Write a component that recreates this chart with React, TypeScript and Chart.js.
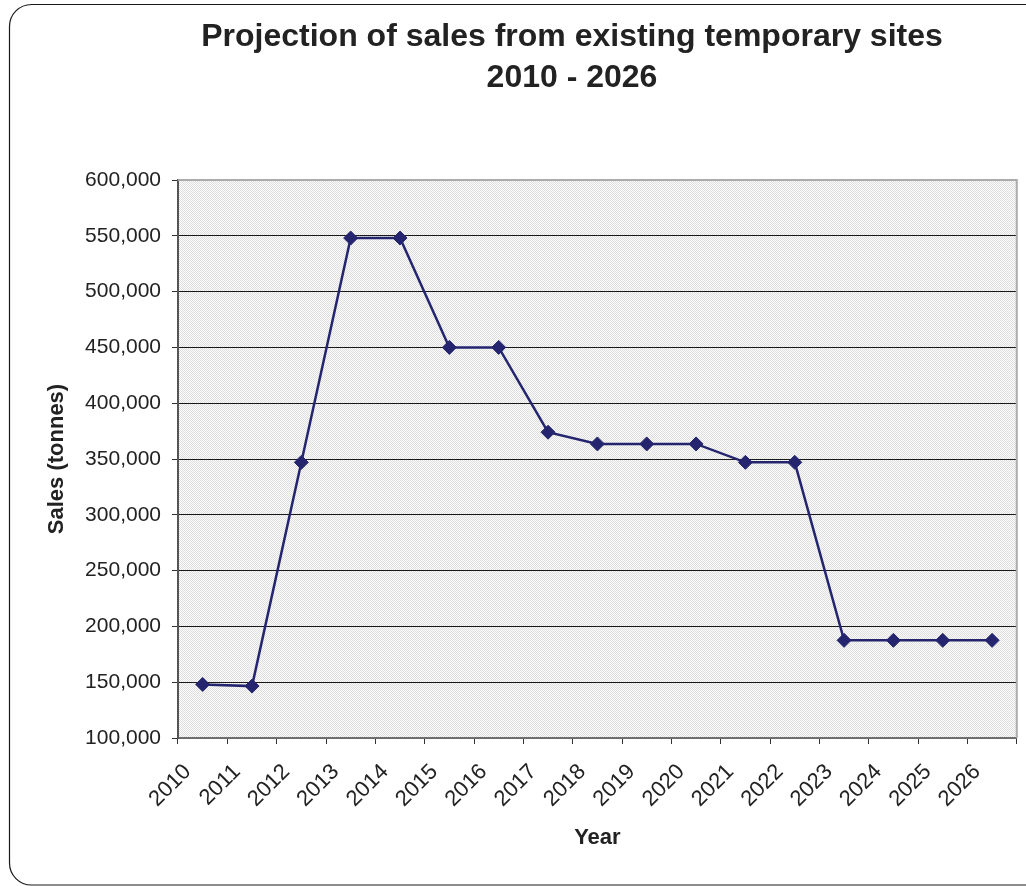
import React, { useEffect, useRef } from "react";
import { Chart, registerables } from "chart.js";

Chart.register(...registerables);

const titleLines = ["Projection of sales from existing temporary sites", "2010 - 2026"];
const years = ["2010", "2011", "2012", "2013", "2014", "2015", "2016", "2017", "2018", "2019", "2020", "2021", "2022", "2023", "2024", "2025", "2026"];
const sales = [148000, 146500, 347000, 548000, 548000, 450000, 450000, 374000, 363500, 363500, 363500, 347000, 347000, 187500, 187500, 187500, 187500];
const yMin = 100000;
const yMax = 600000;
const yStep = 50000;
const xTitle = "Year";
const yTitle = "Sales (tonnes)";

const W = 1026;
const H = 886;
const FONT = "'Liberation Sans', Arial, sans-serif";
const NAVY = "#25256f";

function makePattern(ctx: CanvasRenderingContext2D) {
  const c = document.createElement("canvas");
  c.width = 2;
  c.height = 2;
  const p = c.getContext("2d")!;
  p.fillStyle = "#fcfcfc";
  p.fillRect(0, 0, 2, 2);
  p.fillStyle = "#dedede";
  p.fillRect(0, 0, 1, 1);
  p.fillRect(1, 1, 1, 1);
  return ctx.createPattern(c, "repeat");
}

const decorPlugin = {
  id: "decor",
  beforeDraw(chart: any) {
    const { ctx, chartArea } = chart;
    ctx.save();
    ctx.fillStyle = "#ffffff";
    ctx.fillRect(0, 0, W, H);
    const pat = makePattern(ctx);
    if (pat) {
      ctx.fillStyle = pat;
      ctx.fillRect(chartArea.left, chartArea.top, chartArea.right - chartArea.left, chartArea.bottom - chartArea.top);
    }
    ctx.restore();
  },
  afterDraw(chart: any) {
    const { ctx, chartArea } = chart;
    ctx.save();
    ctx.strokeStyle = "#ababab";
    ctx.lineWidth = 2;
    ctx.beginPath();
    ctx.moveTo(chartArea.left, chartArea.top);
    ctx.lineTo(chartArea.right, chartArea.top);
    ctx.lineTo(chartArea.right, chartArea.bottom);
    ctx.stroke();
    ctx.fillStyle = "#222222";
    ctx.font = `bold 32px ${FONT}`;
    ctx.textAlign = "center";
    ctx.textBaseline = "alphabetic";
    ctx.fillText(titleLines[0], 572, 46);
    ctx.fillText(titleLines[1], 572, 87);
    ctx.strokeStyle = "#1a1a1a";
    ctx.lineWidth = 1.2;
    const x = 9.5, y = 4.5, w = 1040, h = 880.5, r = 22;
    ctx.beginPath();
    ctx.moveTo(x + r, y);
    ctx.lineTo(x + w - r, y);
    ctx.arcTo(x + w, y, x + w, y + r, r);
    ctx.lineTo(x + w, y + h - r);
    ctx.arcTo(x + w, y + h, x + w - r, y + h, r);
    ctx.lineTo(x + r, y + h);
    ctx.arcTo(x, y + h, x, y + h - r, r);
    ctx.lineTo(x, y + r);
    ctx.arcTo(x, y, x + r, y, r);
    ctx.closePath();
    ctx.stroke();
    ctx.restore();
  },
};

export default function App() {
  const ref = useRef<HTMLCanvasElement | null>(null);
  useEffect(() => {
    if (!ref.current) return;
    const chart = new Chart(ref.current, {
      type: "line",
      data: {
        labels: years,
        datasets: [
          {
            data: sales,
            borderColor: NAVY,
            backgroundColor: NAVY,
            borderWidth: 2.5,
            pointStyle: "rectRot",
            pointRadius: 7,
            pointBorderWidth: 1,
            pointBackgroundColor: NAVY,
            pointBorderColor: NAVY,
            tension: 0,
          },
        ],
      },
      options: {
        responsive: false,
        animation: false,
        devicePixelRatio: 1,
        layout: { padding: { top: 180, right: 8, bottom: 0, left: 0 } },
        plugins: { legend: { display: false }, title: { display: false }, tooltip: { enabled: false } },
        scales: {
          x: {
            type: "category",
            offset: true,
            grid: { display: true, drawOnChartArea: false, drawTicks: true, offset: true, tickLength: 6, tickColor: "#333333", color: "#333333" },
            border: { color: "#6e6e6e", width: 2 },
            ticks: {
              color: "#222222",
              font: { family: FONT, size: 22 },
              minRotation: 45,
              maxRotation: 45,
              padding: 15,
              labelOffset: -15,
              autoSkip: false,
            },
            title: { display: true, text: xTitle, color: "#222222", font: { family: FONT, size: 22, weight: "bold" }, padding: { top: 0, bottom: 35 } },
            afterFit: (s: any) => { s.height = 148; },
          },
          y: {
            min: yMin,
            max: yMax,
            grid: { color: "#1a1a1a", lineWidth: 1, tickLength: 6, tickColor: "#333333" },
            border: { color: "#555555", width: 2 },
            ticks: {
              stepSize: yStep,
              color: "#222222",
              font: { family: FONT, size: 21 },
              padding: 11,
              callback: (v: any) => Number(v).toLocaleString("en-US"),
            },
            title: { display: true, text: yTitle, color: "#222222", font: { family: FONT, size: 22, weight: "bold" }, padding: { top: 44, bottom: 0 } },
            afterFit: (s: any) => { s.width = 178; },
          },
        },
      },
      plugins: [decorPlugin],
    } as any);
    return () => chart.destroy();
  }, []);
  return (
    <div style={{ position: "fixed", left: 0, top: 0, width: W, height: H, overflow: "hidden", background: "#fff" }}>
      <canvas ref={ref} width={W} height={H} style={{ display: "block", width: W, height: H }} />
    </div>
  );
}
